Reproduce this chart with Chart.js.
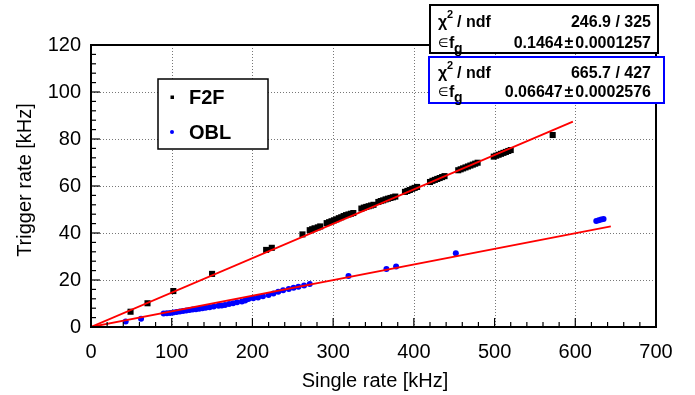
<!DOCTYPE html>
<html><head><meta charset="utf-8">
<script src="https://cdn.jsdelivr.net/npm/chart.js@4/dist/chart.umd.min.js"></script>
<style>html,body{margin:0;padding:0;background:#fff}canvas{display:block}</style>
</head><body>
<canvas id="c" width="695" height="395"></canvas>
<script>
// ---- data ----
const f2fSingle  = [49,70,102,150,217,224,262,271,274,277,281,284,292,295,298,301,304,307,310,313,316,319,322,325,335,338,341,344,347,350,356,359,362,365,368,371,374,377,389,392,395,398,401,404,420,423,426,429,432,435,438,455,458,461,464,467,470,473,476,479,499,502,505,508,511,514,517,520,572];
const f2fTrigger = [6.5,10.1,15.3,22.6,32.8,33.7,39.4,41.2,41.6,42.0,42.4,42.8,44.2,44.6,45.0,45.4,45.8,46.3,46.7,47.2,47.6,47.9,48.2,48.5,50.4,50.8,51.1,51.4,51.7,52.0,53.2,53.6,53.9,54.3,54.6,54.9,55.2,55.5,57.5,57.9,58.3,58.8,59.2,59.6,61.7,62.2,62.6,63.0,63.4,63.8,64.2,66.7,67.1,67.5,67.9,68.3,68.7,69.1,69.5,69.9,72.5,72.9,73.3,73.7,74.1,74.5,74.9,75.3,81.7];
const oblSingle  = [43,62,90,94,98,102,106,110,114,118,122,126,130,134,138,142,147,152,158,162,166,171,176,181,187,191,195,201,207,213,220,226,232,238,245,251,257,264,271,319,366,378,452,626,629,632,635];
const oblTrigger = [2.3,3.5,5.7,5.9,6.0,6.2,6.4,6.6,6.8,7.0,7.2,7.4,7.6,7.8,8.0,8.2,8.4,8.7,9.0,9.2,9.4,9.8,10.1,10.5,10.8,11.3,11.9,12.2,12.6,13.1,13.6,14.3,15.0,15.6,16.2,16.7,17.1,17.7,18.3,21.7,24.7,25.7,31.4,45.1,45.4,45.7,46.0];
const f2fFitX = [0, 597];
const f2fFitY = [0, 87.4];
const oblFitX = [0, 644];
const oblFitY = [0, 42.8];
const seriesNames = ['F2F', 'OBL'];
const statsF2F = ['246.9 / 325', '0.1464', '0.0001257'];
const statsOBL = ['665.7 / 427', '0.06647', '0.0002576'];
const xTitle = 'Single rate [kHz]';
const yTitle = 'Trigger rate [kHz]';

const pts = (xs, ys) => xs.map((x, i) => ({x: x, y: ys[i]}));
const FONT = '"Liberation Sans", Arial, Helvetica, sans-serif';

const rootPlugin = {
  id: 'rootStyle',
  beforeDatasetsDraw(chart) {
    const {ctx, chartArea: a, scales: {x, y}} = chart;
    ctx.save();
    ctx.strokeStyle = '#777';
    ctx.lineWidth = 1;
    ctx.setLineDash([1, 2]);
    for (let v = 100; v < 700; v += 100) {
      const px = Math.round(x.getPixelForValue(v)) + 0.5;
      ctx.beginPath(); ctx.moveTo(px, a.top); ctx.lineTo(px, a.bottom); ctx.stroke();
    }
    for (let v = 20; v < 120; v += 20) {
      const py = Math.round(y.getPixelForValue(v)) + 0.5;
      ctx.beginPath(); ctx.moveTo(a.left, py); ctx.lineTo(a.right, py); ctx.stroke();
    }
    ctx.restore();
  },
  afterDatasetsDraw(chart) {
    const {ctx, chartArea: a, scales: {x, y}} = chart;
    ctx.save();
    // frame
    ctx.strokeStyle = '#000';
    ctx.lineWidth = 2;
    ctx.strokeRect(a.left, a.top, a.right - a.left, a.bottom - a.top);
    // ticks
    ctx.lineWidth = 1.2;
    for (let v = 0; v <= 700; v += 20) {
      const px = x.getPixelForValue(v);
      const len = (v % 100 === 0) ? 9 : 5;
      ctx.beginPath(); ctx.moveTo(px, a.bottom); ctx.lineTo(px, a.bottom - len); ctx.stroke();
    }
    for (let v = 0; v <= 120; v += 4) {
      const py = y.getPixelForValue(v);
      const len = (v % 20 === 0) ? 9 : 5;
      ctx.beginPath(); ctx.moveTo(a.left, py); ctx.lineTo(a.left + len, py); ctx.stroke();
    }
    // axis titles
    ctx.fillStyle = '#000';
    ctx.font = '20px ' + FONT;
    ctx.textAlign = 'center';
    ctx.textBaseline = 'middle';
    ctx.fillText(xTitle, 375, 381);
    ctx.save();
    ctx.translate(25, 180);
    ctx.rotate(-Math.PI / 2);
    ctx.fillText(yTitle, 0, 0);
    ctx.restore();

    // legend
    ctx.lineWidth = 1.5;
    ctx.strokeStyle = '#000';
    ctx.fillStyle = '#fff';
    ctx.fillRect(158, 79, 110, 70);
    ctx.strokeRect(158, 79, 110, 70);
    const ds = chart.data.datasets;
    ctx.fillStyle = ds[0].backgroundColor;
    ctx.fillRect(170.5, 95.5, 3.5, 3.5);
    ctx.fillStyle = ds[1].backgroundColor;
    ctx.beginPath(); ctx.arc(172, 132, 2, 0, Math.PI * 2); ctx.fill();
    ctx.fillStyle = '#000';
    ctx.font = 'bold 20px ' + FONT;
    ctx.textAlign = 'left';
    ctx.textBaseline = 'middle';
    ctx.fillText(ds[0].label, 189, 98);
    ctx.fillText(ds[1].label, 189, 133);

    // stats boxes
    const box = (x0, y0, x1, y1, col, stats, b1, b2) => {
      ctx.fillStyle = '#fff';
      ctx.fillRect(x0, y0, x1 - x0, y1 - y0);
      ctx.strokeStyle = col;
      ctx.lineWidth = 2;
      ctx.strokeRect(x0, y0, x1 - x0, y1 - y0);
      ctx.fillStyle = '#000';
      ctx.textBaseline = 'alphabetic';
      ctx.textAlign = 'left';
      ctx.font = 'bold 16px ' + FONT;
      ctx.fillText('\u03C7', 438, b1);
      ctx.font = 'bold 11px ' + FONT;
      ctx.fillText('2', 447, b1 - 9);
      ctx.font = 'bold 16px ' + FONT;
      ctx.fillText('/ ndf', 457, b1);
      ctx.font = '12px "DejaVu Sans", sans-serif';
      ctx.fillText('\u2208', 438, b2 - 1);
      ctx.font = 'bold 16px ' + FONT;
      ctx.fillText('f', 449, b2);
      ctx.font = 'bold 14px ' + FONT;
      ctx.fillText('g', 454, b2 + 5);
      ctx.font = 'bold 16px ' + FONT;
      ctx.textAlign = 'right';
      const R = 651;
      ctx.fillText(stats[0], R, b1);
      ctx.fillText(stats[2], R, b2);
      const w2 = ctx.measureText(stats[2]).width;
      ctx.fillText('\u00B1', R - w2 - 2, b2);
      const wpm = ctx.measureText('\u00B1').width;
      ctx.fillText(stats[1], R - w2 - wpm - 4, b2);
    };
    box(430, 5, 658, 53, '#000', statsF2F, 26.5, 48);
    box(429, 57, 664, 103, '#0000ff', statsOBL, 78, 97);
    ctx.restore();
  }
};

new Chart(document.getElementById('c'), {
  type: 'scatter',
  data: {
    datasets: [
      { label: seriesNames[0], data: pts(f2fSingle, f2fTrigger), pointStyle: 'rect', pointRadius: 4.3,
        backgroundColor: '#000', borderColor: '#000', borderWidth: 0, order: 3 },
      { label: seriesNames[1], data: pts(oblSingle, oblTrigger), pointStyle: 'circle', pointRadius: 3,
        backgroundColor: '#0000ff', borderColor: '#0000ff', borderWidth: 0, order: 2 },
      { label: 'F2F fit', type: 'line', data: pts(f2fFitX, f2fFitY), showLine: true, pointRadius: 0,
        borderColor: '#ff0000', borderWidth: 1.8, fill: false, order: 1 },
      { label: 'OBL fit', type: 'line', data: pts(oblFitX, oblFitY), showLine: true, pointRadius: 0,
        borderColor: '#ff0000', borderWidth: 1.8, fill: false, order: 1 }
    ]
  },
  options: {
    responsive: false,
    animation: false,
    devicePixelRatio: 1,
    layout: { padding: { left: 0, right: 39, top: 45, bottom: 0 } },
    plugins: { legend: { display: false }, tooltip: { enabled: false } },
    scales: {
      x: {
        type: 'linear', min: 0, max: 700,
        grid: { display: false, drawTicks: false },
        border: { display: false },
        ticks: { stepSize: 100, autoSkip: false, maxRotation: 0, padding: 13, color: '#000',
                 font: { family: FONT, size: 20 } },
        afterFit(s) { s.height = 68; }
      },
      y: {
        type: 'linear', min: 0, max: 120,
        grid: { display: false, drawTicks: false },
        border: { display: false },
        ticks: { stepSize: 20, autoSkip: false, padding: 10, color: '#000',
                 font: { family: FONT, size: 20 } },
        afterFit(s) { s.width = 91; }
      }
    }
  },
  plugins: [rootPlugin]
});
</script>
</body></html>
